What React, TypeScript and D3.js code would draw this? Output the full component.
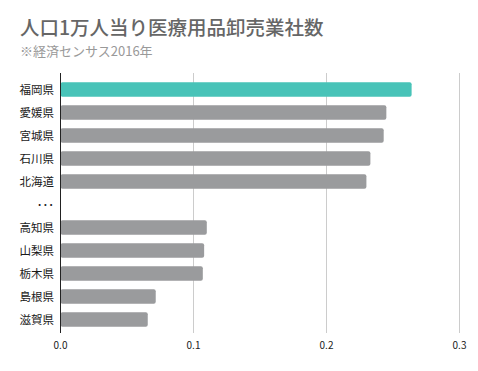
import React, { useRef, useEffect } from "react";
import * as d3 from "d3";

// prefecture labels, "･･･" marks the omitted middle of the ranking
const prefectures = ["福岡県", "愛媛県", "宮城県", "石川県", "北海道", "･･･", "高知県", "山梨県", "栃木県", "島根県", "滋賀県"];
const values: (number | null)[] = [0.264, 0.245, 0.243, 0.233, 0.230, null, 0.110, 0.108, 0.107, 0.0716, 0.0656];
const highlight = ["福岡県"];
const xTicks = [0, 0.1, 0.2, 0.3];

const App = () => {
  const svgRef = useRef<SVGSVGElement>(null);

  useEffect(() => {
    const width = 478;
    const height = 371;
    const font = "'Noto Sans CJK JP', 'Noto Sans', sans-serif";

    const svg = d3.select(svgRef.current).attr("width", width).attr("height", height);
    svg.selectAll("*").remove();

    svg.append("rect").attr("width", width).attr("height", height).attr("fill", "#fff");

    svg
      .append("text")
      .attr("x", 20)
      .attr("y", 35)
      .text("人口1万人当り医療用品卸売業社数")
      .attr("fill", "#666")
      .style("font-family", font)
      .style("font-weight", "500")
      .style("font-size", "19.5px");

    svg
      .append("text")
      .attr("x", 20)
      .attr("y", 56)
      .text("※経済センサス2016年")
      .attr("fill", "#999")
      .style("font-family", font)
      .style("font-size", "13px");

    const x = d3.scaleLinear().domain([0, 0.3]).range([60.5, 459.5]);
    const y = d3.scaleBand().domain(prefectures).range([78, 331]).paddingInner(0.37).paddingOuter(0.185);
    const top = 73;
    const bottom = 333;

    // grid
    svg
      .selectAll("line.grid")
      .data(xTicks.filter((t) => t > 0))
      .join("line")
      .attr("class", "grid")
      .attr("x1", (d) => x(d))
      .attr("x2", (d) => x(d))
      .attr("y1", top)
      .attr("y2", bottom)
      .attr("stroke", "#ccc")
      .attr("stroke-width", 1);

    const rows = prefectures.map((p, i) => ({ name: p, value: values[i] }));

    svg
      .selectAll("rect.bar")
      .data(rows.filter((d) => d.value != null))
      .join("rect")
      .attr("class", "bar")
      .attr("x", x(0))
      .attr("y", (d) => y(d.name)!)
      .attr("width", (d) => x(d.value as number) - x(0))
      .attr("height", y.bandwidth())
      .attr("rx", 2)
      .attr("fill", (d) => (highlight.includes(d.name) ? "#48c3b8" : "#9a9b9d"));

    // y axis line
    svg
      .append("line")
      .attr("x1", x(0))
      .attr("x2", x(0))
      .attr("y1", top)
      .attr("y2", bottom)
      .attr("stroke", "#222")
      .attr("stroke-width", 1);

    svg
      .selectAll("text.ylab")
      .data(prefectures)
      .join("text")
      .attr("class", "ylab")
      .attr("x", 54)
      .attr("y", (d) => y(d)! + y.bandwidth() / 2)
      .attr("dy", "0.35em")
      .attr("text-anchor", "end")
      .text((d) => d)
      .attr("fill", "#1a1a1a")
      .style("font-family", font)
      .style("font-size", "11.5px");

    svg
      .selectAll("text.xlab")
      .data(xTicks)
      .join("text")
      .attr("class", "xlab")
      .attr("x", (d) => x(d))
      .attr("y", 349)
      .attr("text-anchor", "middle")
      .text((d) => d3.format(".1f")(d))
      .attr("fill", "#222")
      .style("font-family", font)
      .style("font-size", "10px");
  }, []);

  return <svg ref={svgRef} style={{ position: "absolute", left: 0, top: 0 }}></svg>;
};

export default App;
